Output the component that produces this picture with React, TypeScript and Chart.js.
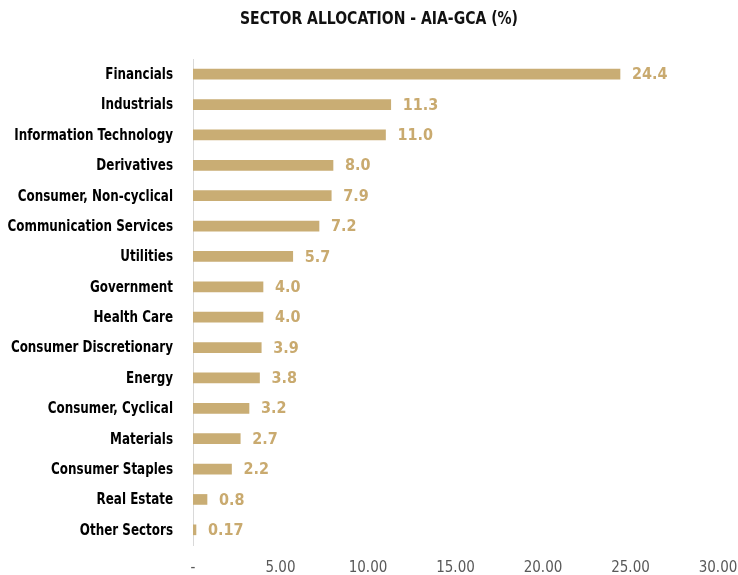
import React, { useEffect, useRef } from "react";
import { Chart, registerables } from "chart.js";

Chart.register(...registerables);

const categories = [
  "Financials",
  "Industrials",
  "Information Technology",
  "Derivatives",
  "Consumer, Non-cyclical",
  "Communication Services",
  "Utilities",
  "Government",
  "Health Care",
  "Consumer Discretionary",
  "Energy",
  "Consumer, Cyclical",
  "Materials",
  "Consumer Staples",
  "Real Estate",
  "Other Sectors",
];
const values = [24.4, 11.3, 11.0, 8.0, 7.9, 7.2, 5.7, 4.0, 4.0, 3.9, 3.8, 3.2, 2.7, 2.2, 0.8, 0.17];
const valueLabels = ["24.4", "11.3", "11.0", "8.0", "7.9", "7.2", "5.7", "4.0", "4.0", "3.9", "3.8", "3.2", "2.7", "2.2", "0.8", "0.17"];
const titleText = "SECTOR ALLOCATION - AIA-GCA (%)";

const BAR_COLOR = "#C9AD74";
const LABEL_COLOR = "#C9AA6F";
const FONT = "'DejaVu Sans Condensed', 'DejaVu Sans', sans-serif";

function drawNarrow(ctx: CanvasRenderingContext2D, text: string, x: number, y: number, align: "left" | "right" | "center", sx: number) {
  ctx.save();
  ctx.translate(x, y);
  ctx.scale(sx, 1);
  ctx.textAlign = align;
  ctx.textBaseline = "middle";
  ctx.fillText(text, 0, 0);
  ctx.restore();
}

export default function App() {
  const ref = useRef<HTMLCanvasElement>(null);
  useEffect(() => {
    if (!ref.current) return;
    const textPlugin = {
      id: "customTexts",
      afterDraw(chart: any) {
        const ctx = chart.ctx;
        ctx.save();
        // value labels
        const meta = chart.getDatasetMeta(0);
        ctx.fillStyle = LABEL_COLOR;
        ctx.font = `bold 16px ${FONT}`;
        meta.data.forEach((bar: any, i: number) => {
          drawNarrow(ctx, valueLabels[i], bar.x + 12, bar.y + 1, "left", 1);
        });
        // category labels
        const yScale = chart.scales.y;
        ctx.fillStyle = "#000";
        ctx.font = `bold 15px ${FONT}`;
        categories.forEach((c, i) => {
          drawNarrow(ctx, c, 173, yScale.getPixelForValue(i) + 1, "right", 0.885);
        });
        // title
        ctx.fillStyle = "#111";
        ctx.font = `bold 18px ${FONT}`;
        drawNarrow(ctx, titleText, 379, 19, "center", 0.865);
        ctx.restore();
      },
    };
    const chart = new Chart(ref.current, {
      type: "bar",
      data: {
        labels: categories,
        datasets: [
          {
            data: values,
            backgroundColor: BAR_COLOR,
            barThickness: 10,
          },
        ],
      },
      options: {
        indexAxis: "y",
        animation: false,
        responsive: false,
        maintainAspectRatio: false,
        layout: { padding: { top: 59, right: 20, left: 0, bottom: 0 } },
        plugins: { legend: { display: false }, tooltip: { enabled: false }, title: { display: false } },
        scales: {
          x: {
            min: 0,
            max: 30,
            ticks: {
              stepSize: 5,
              color: "#595959",
              font: { family: FONT, size: 15 },
              padding: 14,
              maxRotation: 0,
              callback: (v: any) => (Number(v) === 0 ? "-" : Number(v).toFixed(2)),
            },
            grid: { display: false, drawTicks: false },
            border: { display: false },
            afterFit: (s: any) => {
              s.height = 30;
              s.paddingLeft = 0;
              s.paddingRight = 0;
            },
          },
          y: {
            ticks: { display: false },
            grid: { display: false, drawTicks: false },
            border: { display: true, color: "#D9D9D9" },
            afterFit: (s: any) => {
              s.width = 193;
            },
          },
        },
      },
      plugins: [textPlugin],
    });
    return () => chart.destroy();
  }, []);
  return (
    <div style={{ position: "fixed", left: 0, top: 0, width: 738, height: 575, background: "#fff" }}>
      <canvas ref={ref} width={738} height={575} />
    </div>
  );
}
